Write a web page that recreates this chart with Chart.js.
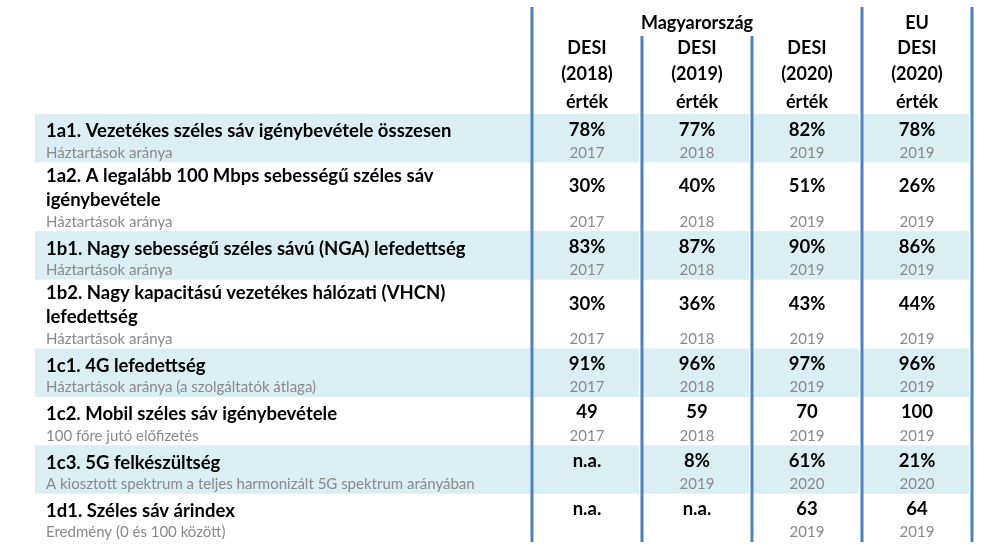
<!DOCTYPE html>
<html lang="hu">
<head>
<meta charset="utf-8">
<script src="https://cdn.jsdelivr.net/npm/chart.js"></script>
<style>
  html, body { margin: 0; padding: 0; background: #fff; }
  #wrap { width: 1004px; height: 550px; }
</style>
</head>
<body>
<div id="wrap"><canvas id="myChart" width="1004" height="550"></canvas></div>
<script>
// --- adatok ---
const rowLabels = [
    ['1a1. Vezetékes széles sáv igénybevétele összesen'],
    ['1a2. A legalább 100 Mbps sebességű széles sáv', 'igénybevétele'],
    ['1b1. Nagy sebességű széles sávú (NGA) lefedettség'],
    ['1b2. Nagy kapacitású vezetékes hálózati (VHCN)', 'lefedettség'],
    ['1c1. 4G lefedettség'],
    ['1c2. Mobil széles sáv igénybevétele'],
    ['1c3. 5G felkészültség'],
    ['1d1. Széles sáv árindex']
];
const rowUnits = [
    'Háztartások aránya',
    'Háztartások aránya',
    'Háztartások aránya',
    'Háztartások aránya',
    'Háztartások aránya (a szolgáltatók átlaga)',
    '100 főre jutó előfizetés',
    'A kiosztott spektrum a teljes harmonizált 5G spektrum arányában',
    'Eredmény (0 és 100 között)'
];
const rowIsPercent = [true, true, true, true, true, false, true, false];

const columnGroups = ['Magyarország', 'EU'];
const groupSpans = [3, 1];
const columnHeads = [
    ['DESI', '(2018)', 'érték'],
    ['DESI', '(2019)', 'érték'],
    ['DESI', '(2020)', 'érték'],
    ['DESI', '(2020)', 'érték']
];

const hu2018 = [78, 30, 83, 30, 91, 49, null, null];
const hu2019 = [77, 40, 87, 36, 96, 59, 8, null];
const hu2020 = [82, 51, 90, 43, 97, 70, 61, 63];
const eu2020 = [78, 26, 86, 44, 96, 100, 21, 64];

const hu2018Years = [2017, 2017, 2017, 2017, 2017, 2017, null, null];
const hu2019Years = [2018, 2018, 2018, 2018, 2018, 2018, 2019, null];
const hu2020Years = [2019, 2019, 2019, 2019, 2019, 2019, 2020, 2019];
const eu2020Years = [2019, 2019, 2019, 2019, 2019, 2019, 2020, 2019];

const columnValues = [hu2018, hu2019, hu2020, eu2020];
const columnYears = [hu2018Years, hu2019Years, hu2020Years, eu2020Years];

// --- elrendezés (y egység = egy sor ~22px, x egység = egy oszlop) ---
const HEADER_H = 5.18;
const ROW_H = 2.2;
const EXTRA_LINE = 0.93;
const SUB_GAP = 0.43;
const SUB_STEP = 0.98;
const BOLD_STEP = 1.09;
const HEAD_GROUP_Y = 1.05;
const HEAD_LINES_Y = [2.18, 3.36, 4.64];
const LINE_TOP = 0.32;
const INNER_LINE_TOP = 1.64;
const LABEL_X = -4.418;
const SHADE_LEFT = -4.518;

const SHADE = '#DAEEF3';
const RULE = '#4F81BD';
const GRAY = '#8a8a8a';
const FONT = 'Lato, "Open Sans", sans-serif';

function buildRows() {
    let top = HEADER_H;
    return rowLabels.map(lines => {
        const h = ROW_H + (lines.length - 1) * EXTRA_LINE;
        const bottom = top + h;
        const sub = bottom - SUB_GAP;
        const bold = lines.map((_, i) => sub - SUB_STEP - (lines.length - 1 - i) * BOLD_STEP);
        const mid = bold.reduce((a, b) => a + b, 0) / bold.length - 0.08;
        const r = { top, bottom, sub, bold, mid };
        top = bottom;
        return r;
    });
}
const rows = buildRows();
const tableBottom = rows[rows.length - 1].bottom;

// oszlophatárok függőleges vonalai
const groupEdges = [0];
groupSpans.forEach(s => groupEdges.push(groupEdges[groupEdges.length - 1] + s));
const ruleDatasets = [];
for (let k = 0; k <= columnHeads.length; k++) {
    const top = groupEdges.includes(k) ? LINE_TOP : INNER_LINE_TOP;
    ruleDatasets.push({
        type: 'line',
        data: [{ x: k, y: top }, { x: k, y: tableBottom }],
        borderColor: RULE,
        borderWidth: 3,
        pointRadius: 0,
        borderCapStyle: 'butt'
    });
}

function formatValue(v, pct) {
    if (v === null) return 'n.a.';
    return pct ? v + '%' : String(v);
}

const tablePlugin = {
    id: 'tablePlugin',
    beforeDatasetsDraw(chart) {
        const ctx = chart.ctx;
        const x = chart.scales.x;
        const y = chart.scales.y;
        ctx.save();
        ctx.fillStyle = SHADE;
        rows.forEach((r, i) => {
            if (i % 2 !== 0) return;
            const y0 = y.getPixelForValue(r.top);
            const y1 = y.getPixelForValue(r.bottom);
            const l = x.getPixelForValue(SHADE_LEFT);
            ctx.fillRect(l, y0, x.getPixelForValue(0) - l, y1 - y0);
            for (let k = 0; k < columnHeads.length; k++) {
                const a = x.getPixelForValue(k);
                const b = x.getPixelForValue(k + 1) - 3;
                ctx.fillRect(a, y0, b - a, y1 - y0);
            }
        });
        ctx.restore();
    },
    afterDatasetsDraw(chart) {
        const ctx = chart.ctx;
        const x = chart.scales.x;
        const y = chart.scales.y;
        ctx.save();
        ctx.textBaseline = 'middle';

        // fejléc
        ctx.fillStyle = '#000';
        ctx.font = 'bold 18px ' + FONT;
        ctx.textAlign = 'center';
        columnGroups.forEach((g, i) => {
            const c = groupEdges[i] + groupSpans[i] / 2;
            ctx.fillText(g, x.getPixelForValue(c), y.getPixelForValue(HEAD_GROUP_Y));
        });
        columnHeads.forEach((lines, k) => {
            lines.forEach((t, j) => {
                ctx.fillText(t, x.getPixelForValue(k + 0.5), y.getPixelForValue(HEAD_LINES_Y[j]));
            });
        });

        // sorok
        rows.forEach((r, i) => {
            ctx.textAlign = 'left';
            ctx.fillStyle = '#000';
            ctx.font = 'bold 18.5px ' + FONT;
            rowLabels[i].forEach((t, j) => {
                ctx.fillText(t, x.getPixelForValue(LABEL_X), y.getPixelForValue(r.bold[j]));
            });
            ctx.fillStyle = GRAY;
            ctx.font = '15px ' + FONT;
            ctx.fillText(rowUnits[i], x.getPixelForValue(LABEL_X), y.getPixelForValue(r.sub));

            ctx.textAlign = 'center';
            columnValues.forEach((vals, k) => {
                const cx = x.getPixelForValue(k + 0.5);
                ctx.fillStyle = '#000';
                ctx.font = 'bold 18.5px ' + FONT;
                ctx.fillText(formatValue(vals[i], rowIsPercent[i]), cx, y.getPixelForValue(r.mid));
                const yr = columnYears[k][i];
                if (yr !== null) {
                    ctx.fillStyle = GRAY;
                    ctx.font = '15px ' + FONT;
                    ctx.fillText(String(yr), cx, y.getPixelForValue(r.sub));
                }
            });
        });
        ctx.restore();
    }
};

const ctx = document.getElementById('myChart').getContext('2d');
const myChart = new Chart(ctx, {
    type: 'scatter',
    data: { datasets: ruleDatasets },
    options: {
        responsive: false,
        animation: false,
        devicePixelRatio: 1,
        layout: { padding: 0 },
        plugins: { legend: { display: false }, tooltip: { enabled: false } },
        scales: {
            x: { type: 'linear', min: -4.836, max: 4.291, display: false },
            y: { type: 'linear', min: 0, max: 25, reverse: true, display: false }
        }
    },
    plugins: [tablePlugin]
});
</script>
</body>
</html>
